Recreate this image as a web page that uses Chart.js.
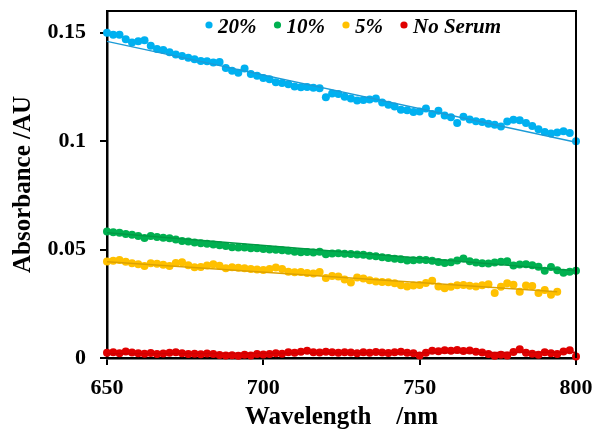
<!DOCTYPE html>
<html lang="en">
<head>
    <meta charset="UTF-8">
    <title>Absorbance vs Wavelength</title>
    <script src="https://cdn.jsdelivr.net/npm/chart.js"></script>
    <style>
        body {
            margin: 0;
            background: #fff;
        }

        .chart-box {
            width: 595px;
            height: 435px;
        }
    </style>
</head>
<body>
    <div class="chart-box">
        <canvas id="absChart" width="595" height="435"></canvas>
    </div>
    <script>
        // wavelength (nm), read every 2 nm off the plot
        const wavelengths = [
            650, 652, 654, 656, 658, 660, 662, 664, 666, 668,
            670, 672, 674, 676, 678, 680, 682, 684, 686, 688,
            690, 692, 694, 696, 698, 700, 702, 704, 706, 708,
            710, 712, 714, 716, 718, 720, 722, 724, 726, 728,
            730, 732, 734, 736, 738, 740, 742, 744, 746, 748,
            750, 752, 754, 756, 758, 760, 762, 764, 766, 768,
            770, 772, 774, 776, 778, 780, 782, 784, 786, 788,
            790, 792, 794, 796, 798, 800
        ];

        const serum20 = [
            0.150, 0.149, 0.149, 0.147, 0.1455, 0.146, 0.1465, 0.144, 0.1425, 0.142,
            0.141, 0.140, 0.1392, 0.1384, 0.1378, 0.137, 0.1368, 0.1362, 0.1365, 0.1337,
            0.1325, 0.1315, 0.1335, 0.131, 0.1302, 0.1291, 0.1285, 0.1272, 0.1268, 0.1262,
            0.1252, 0.1248, 0.125, 0.1246, 0.1244, 0.1202, 0.122, 0.1217, 0.1205, 0.1196,
            0.1187, 0.119, 0.1192, 0.1196, 0.1178, 0.1168, 0.116, 0.1145, 0.1142, 0.1134,
            0.1137, 0.115, 0.1125, 0.114, 0.1118, 0.111, 0.1084, 0.1112, 0.110, 0.1092,
            0.1088, 0.108, 0.1075, 0.1068, 0.109, 0.1098, 0.1096, 0.1084, 0.107, 0.1055,
            0.1042, 0.1035, 0.104, 0.1046, 0.1038, 0.0999
        ];

        const serum10 = [
            0.0583, 0.0580, 0.0578, 0.0572, 0.0568, 0.0562, 0.0553, 0.0562, 0.0558, 0.0555,
            0.0552, 0.0546, 0.0540, 0.0537, 0.0532, 0.0529, 0.0527, 0.0523, 0.0520, 0.0516,
            0.0511, 0.0509, 0.0510, 0.0506, 0.0506, 0.0503, 0.0500, 0.0499, 0.0497, 0.0494,
            0.0490, 0.0488, 0.0489, 0.0486, 0.0490, 0.0478, 0.0482, 0.0483, 0.0481, 0.0479,
            0.0477, 0.0476, 0.0472, 0.0469, 0.0464, 0.0461, 0.0458, 0.0455, 0.0449, 0.0451,
            0.0453, 0.0452, 0.0448, 0.0443, 0.0438, 0.0441, 0.0449, 0.0459, 0.0446, 0.0440,
            0.0437, 0.0436, 0.0440, 0.0444, 0.0446, 0.0427, 0.0431, 0.0432, 0.0428, 0.0421,
            0.0402, 0.0420, 0.0405, 0.0393, 0.0398, 0.0402
        ];

        const serum5 = [
            0.0445, 0.0448, 0.0452, 0.0444, 0.0437, 0.0432, 0.0424, 0.0437, 0.0435, 0.0430,
            0.0424, 0.0438, 0.0442, 0.0428, 0.0419, 0.0420, 0.0426, 0.0432, 0.0425, 0.0414,
            0.0418, 0.0416, 0.0414, 0.0410, 0.0408, 0.0406, 0.0410, 0.0417, 0.0410, 0.0398,
            0.0395, 0.0396, 0.0392, 0.0390, 0.0396, 0.0369, 0.0378, 0.0376, 0.0362, 0.0348,
            0.0371, 0.0366, 0.0358, 0.0353, 0.0350, 0.0349, 0.0345, 0.0336, 0.0330, 0.0334,
            0.0337, 0.0346, 0.0356, 0.0330, 0.0322, 0.0328, 0.0335, 0.0337, 0.0333, 0.0330,
            0.0336, 0.0340, 0.0300, 0.0328, 0.0345, 0.0338, 0.0306, 0.0334, 0.0332, 0.0300,
            0.0314, 0.0292, 0.0306, null, null, null
        ];

        const noSerum = [
            0.0024, 0.0026, 0.0022, 0.0030, 0.0025, 0.0022, 0.0020, 0.0023, 0.0019, 0.0021,
            0.0024, 0.0027, 0.0022, 0.0018, 0.0020, 0.0017, 0.0021, 0.0018, 0.0014, 0.0011,
            0.0013, 0.0010, 0.0015, 0.0012, 0.0018, 0.0016, 0.0019, 0.0022, 0.0020, 0.0027,
            0.0024, 0.0029, 0.0033, 0.0027, 0.0025, 0.0029, 0.0026, 0.0024, 0.0027, 0.0025,
            0.0022, 0.0026, 0.0024, 0.0028, 0.0025, 0.0023, 0.0026, 0.0029, 0.0024, 0.0022,
            0.0011, 0.0024, 0.0034, 0.0031, 0.0036, 0.0033, 0.0037, 0.0032, 0.0035, 0.0029,
            0.0025, 0.0018, 0.0010, 0.0015, 0.0012, 0.0028, 0.0040, 0.0024, 0.0020, 0.0015,
            0.0027, 0.0022, 0.0019, 0.0030, 0.0036, 0.0007
        ];

        // linear trendlines: [start, end] wavelength and value
        const trend20X = [650, 800];
        const trend20Y = [0.146, 0.0995];
        const trend10X = [650, 800];
        const trend10Y = [0.0578, 0.0402];
        const trend5X = [650, 794];
        const trend5Y = [0.0444, 0.0305];
        const trendNoX = [650, 800];
        const trendNoY = [0.0020, 0.0026];

        const seriesNames = ['20%', '10%', '5%', 'No Serum'];
        const seriesColors = ['#00B0F0', '#00B050', '#FFC000', '#E00000'];
        const trendColors = ['#1C9BD6', '#009A44', '#DDA200', '#D00000'];

        const yTicks = [0, 0.05, 0.1, 0.15];

        const serif = "'Liberation Serif', 'Times New Roman', serif";

        function toPoints(xs, ys) {
            return xs.map((x, i) => ({ x: x, y: ys[i] }));
        }

        const seriesData = [serum20, serum10, serum5, noSerum];
        const trendData = [
            [trend20X, trend20Y],
            [trend10X, trend10Y],
            [trend5X, trend5Y],
            [trendNoX, trendNoY]
        ];

        const datasets = [];
        seriesData.forEach((vals, i) => {
            datasets.push({
                label: seriesNames[i],
                data: toPoints(wavelengths, vals),
                backgroundColor: seriesColors[i],
                borderWidth: 0,
                pointRadius: 4,
                showLine: false,
                clip: false,
                order: 2
            });
        });
        trendData.forEach((t, i) => {
            datasets.push({
                label: seriesNames[i] + ' trend',
                data: toPoints(t[0], t[1]),
                borderColor: trendColors[i],
                borderWidth: 1.5,
                pointRadius: 0,
                showLine: true,
                clip: false,
                order: 1
            });
        });

        // top/right frame and in-plot legend
        const frameLegend = {
            id: 'frameLegend',
            afterDraw(chart) {
                const { ctx, chartArea: a } = chart;
                ctx.save();
                ctx.strokeStyle = '#000';
                ctx.lineWidth = 2;
                ctx.beginPath();
                ctx.moveTo(a.left, a.top);
                ctx.lineTo(a.right, a.top);
                ctx.lineTo(a.right, a.bottom);
                ctx.stroke();

                ctx.font = 'italic bold 21px ' + serif;
                ctx.textBaseline = 'alphabetic';
                let x = 209;
                seriesNames.forEach((name, i) => {
                    ctx.fillStyle = seriesColors[i];
                    ctx.beginPath();
                    ctx.arc(x, 25, 3.6, 0, Math.PI * 2);
                    ctx.fill();
                    ctx.fillStyle = '#000';
                    ctx.fillText(name, x + 9, 33);
                    x += 9 + ctx.measureText(name).width + 21;
                });
                ctx.restore();
            }
        };

        const ctx = document.getElementById('absChart').getContext('2d');
        const absChart = new Chart(ctx, {
            type: 'scatter',
            data: { datasets: datasets },
            plugins: [frameLegend],
            options: {
                responsive: false,
                animation: false,
                layout: {
                    padding: { top: 11, right: 19, left: 0, bottom: 0 }
                },
                plugins: {
                    legend: { display: false },
                    tooltip: { enabled: false }
                },
                scales: {
                    x: {
                        type: 'linear',
                        min: 650,
                        max: 800,
                        afterFit(scale) {
                            scale.height = 77;
                            scale.paddingLeft = 0;
                            scale.paddingRight = 0;
                        },
                        border: { color: '#000', width: 2.5 },
                        grid: {
                            drawOnChartArea: false,
                            tickLength: 7,
                            color: '#000',
                            lineWidth: 2
                        },
                        ticks: {
                            stepSize: 50,
                            color: '#000',
                            padding: 10,
                            maxRotation: 0,
                            font: { family: serif, weight: 'bold', size: 22 }
                        },
                        title: {
                            display: true,
                            text: 'Wavelength\u00a0\u00a0\u00a0\u00a0/nm',
                            color: '#000',
                            padding: 2,
                            font: { family: serif, weight: 'bold', size: 25 }
                        }
                    },
                    y: {
                        min: 0,
                        max: 0.16,
                        afterFit(scale) {
                            scale.width = 107;
                            scale.paddingTop = 0;
                            scale.paddingBottom = 0;
                        },
                        afterBuildTicks(scale) {
                            scale.ticks = yTicks.map(v => ({ value: v }));
                        },
                        border: { color: '#000', width: 2.5 },
                        grid: {
                            drawOnChartArea: false,
                            tickLength: 7,
                            color: '#000',
                            lineWidth: 2
                        },
                        ticks: {
                            color: '#000',
                            padding: 14,
                            callback: v => String(+v.toFixed(2)),
                            font: { family: serif, weight: 'bold', size: 22 }
                        },
                        title: {
                            display: true,
                            text: 'Absorbance /AU',
                            color: '#000',
                            padding: 9,
                            font: { family: serif, weight: 'bold', size: 25 }
                        }
                    }
                }
            }
        });
    </script>
</body>
</html>
